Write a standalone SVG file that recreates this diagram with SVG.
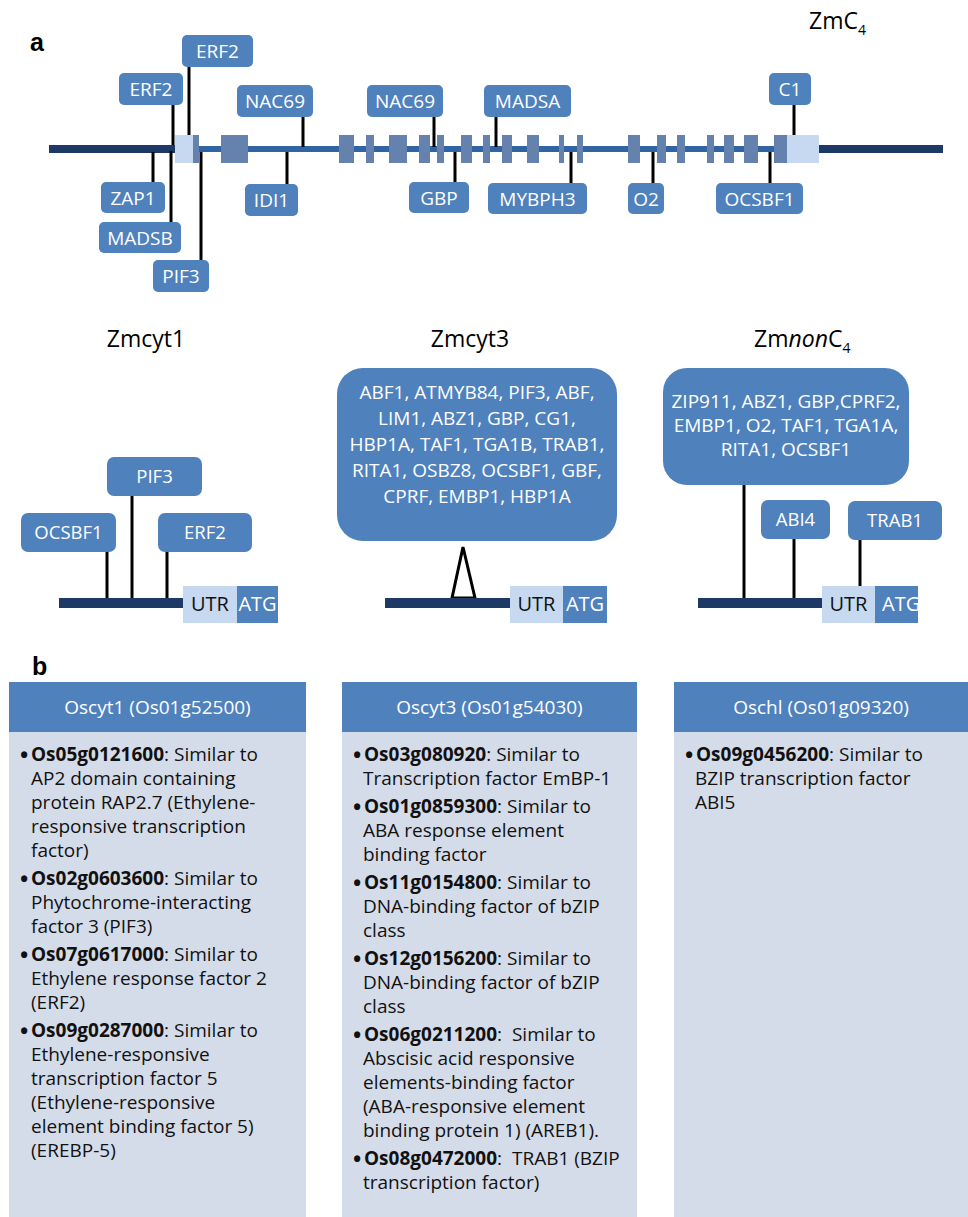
<svg xmlns="http://www.w3.org/2000/svg" width="968" height="1217" viewBox="0 0 968 1217">
<style>
.box{fill:#4f81bd}
.lbl{font-family:'Open Sans',sans-serif;font-size:19px;fill:#ffffff;text-anchor:middle}
.lbl2{font-family:'Open Sans',sans-serif;font-size:18.5px;fill:#ffffff;text-anchor:middle}
.big{font-family:'Open Sans',sans-serif;font-size:19px;fill:#ffffff;text-anchor:middle}
.con{stroke:#000000;stroke-width:3;fill:none}
.dark{fill:#1d3a66}
.thin{fill:#3164a3}
.exon{fill:#6581ad}
.utr{fill:#c6d9f1}
.title{font-family:'Open Sans',sans-serif;font-size:23px;fill:#000000;text-anchor:middle}
.panel{font-family:'Liberation Sans',Arial,sans-serif;font-weight:bold;font-size:25px;fill:#000000}
.hdr{fill:#4f81bd}
.body{fill:#d5dce9}
.htxt{font-family:'Open Sans',sans-serif;font-size:19px;fill:#ffffff;text-anchor:middle}
.t{font-family:'Open Sans',sans-serif;font-size:19px;fill:#111111}
.b{font-weight:bold}
.bul{font-weight:bold;font-size:22px}
.utrt{font-family:'Open Sans',sans-serif;font-size:20px;fill:#111111;text-anchor:middle}
.atgt{font-family:'Open Sans',sans-serif;font-size:20px;fill:#ffffff}
</style>
<defs>
<clipPath id="clipAtg"><rect x="875" y="586" width="43" height="37"/></clipPath>
</defs>
<rect x="0" y="0" width="968" height="1217" fill="#ffffff"/>

<!-- Panel a -->
<text class="panel" x="30" y="51">a</text>
<text id="zmc4-title" class="title" x="809" y="29" style="text-anchor:start">ZmC<tspan font-size="14" dy="6">4</tspan></text>

<g id="zmc4-gene">
<rect class="dark" x="49" y="145" width="126" height="8"/>
<rect class="dark" x="819" y="145" width="124" height="8"/>
<rect class="thin" x="193" y="146" width="594" height="6"/>
<rect class="utr" x="175" y="135" width="18" height="28"/>
<rect class="utr" x="787" y="135" width="32" height="28"/>
<rect class="exon" x="193" y="135" width="6" height="28"/>
<rect class="exon" x="221" y="135" width="27" height="28"/>
<rect class="exon" x="339" y="135" width="15" height="28"/>
<rect class="exon" x="366" y="135" width="8" height="28"/>
<rect class="exon" x="389" y="135" width="18" height="28"/>
<rect class="exon" x="419" y="135" width="11" height="28"/>
<rect class="exon" x="437" y="135" width="7" height="28"/>
<rect class="exon" x="461" y="135" width="11" height="28"/>
<rect class="exon" x="483" y="135" width="7" height="28"/>
<rect class="exon" x="502" y="135" width="10" height="28"/>
<rect class="exon" x="527" y="135" width="12" height="28"/>
<rect class="exon" x="559" y="135" width="5" height="28"/>
<rect class="exon" x="577" y="135" width="6" height="28"/>
<rect class="exon" x="628" y="135" width="12" height="28"/>
<rect class="exon" x="657" y="135" width="9" height="28"/>
<rect class="exon" x="677" y="135" width="8" height="28"/>
<rect class="exon" x="707" y="135" width="7" height="28"/>
<rect class="exon" x="724" y="135" width="10" height="28"/>
<rect class="exon" x="744" y="135" width="14" height="28"/>
<rect class="exon" x="774" y="135" width="13" height="28"/>
</g>

<g id="connectors">
<line class="con" x1="189" y1="67" x2="189" y2="135"/>
<line class="con" x1="173" y1="105" x2="173" y2="145"/>
<line class="con" x1="303" y1="117" x2="303" y2="147"/>
<line class="con" x1="434" y1="117" x2="434" y2="147"/>
<line class="con" x1="496" y1="117" x2="496" y2="147"/>
<line class="con" x1="794" y1="105" x2="794" y2="135"/>
<line class="con" x1="153" y1="152" x2="153" y2="182"/>
<line class="con" x1="171" y1="151" x2="171" y2="222"/>
<line class="con" x1="201" y1="152" x2="201" y2="260"/>
<line class="con" x1="287" y1="152" x2="287" y2="184"/>
<line class="con" x1="455" y1="152" x2="455" y2="182"/>
<line class="con" x1="571" y1="152" x2="571" y2="183"/>
<line class="con" x1="653" y1="152" x2="653" y2="183"/>
<line class="con" x1="770" y1="152" x2="770" y2="183"/>
<!-- Zmcyt1 -->
<line class="con" x1="107" y1="552" x2="107" y2="598"/>
<line class="con" x1="132" y1="496" x2="132" y2="598"/>
<line class="con" x1="167" y1="552" x2="167" y2="598"/>
<!-- Zmcyt3 -->
<polygon points="463,547 452,598 475,598" fill="#ffffff" stroke="#000000" stroke-width="3" stroke-linejoin="miter"/>
<!-- ZmnonC4 -->
<line class="con" x1="744" y1="485" x2="744" y2="598"/>
<line class="con" x1="794" y1="539" x2="794" y2="598"/>
<line class="con" x1="860" y1="540" x2="860" y2="586"/>
</g>

<g id="n-erf2-top"><rect class="box" x="182" y="35" width="71" height="32" rx="5"/><text class="lbl" x="217.5" y="58">ERF2</text></g>
<g id="n-erf2-left"><rect class="box" x="119" y="73" width="64" height="32" rx="5"/><text class="lbl" x="151" y="96">ERF2</text></g>
<g id="n-nac69-a"><rect class="box" x="237" y="85" width="76" height="32" rx="5"/><text class="lbl" x="275" y="108">NAC69</text></g>
<g id="n-nac69-b"><rect class="box" x="367" y="85" width="76" height="32" rx="5"/><text class="lbl" x="405" y="108">NAC69</text></g>
<g id="n-madsa"><rect class="box" x="484" y="85" width="87" height="32" rx="5"/><text class="lbl" x="527.5" y="108">MADSA</text></g>
<g id="n-c1"><rect class="box" x="769" y="73" width="42" height="32" rx="5"/><text class="lbl" x="790" y="96">C1</text></g>
<g id="n-zap1"><rect class="box" x="101" y="182" width="64" height="31" rx="5"/><text class="lbl" x="133" y="204.5">ZAP1</text></g>
<g id="n-madsb"><rect class="box" x="99" y="222" width="82" height="31" rx="5"/><text class="lbl" x="140" y="244.5">MADSB</text></g>
<g id="n-pif3-top"><rect class="box" x="153" y="260" width="56" height="32" rx="5"/><text class="lbl" x="181" y="283">PIF3</text></g>
<g id="n-idi1"><rect class="box" x="245" y="184" width="53" height="32" rx="5"/><text class="lbl" x="271.5" y="207">IDI1</text></g>
<g id="n-gbp"><rect class="box" x="409" y="182" width="60" height="31" rx="5"/><text class="lbl" x="439" y="204.5">GBP</text></g>
<g id="n-mybph3"><rect class="box" x="488" y="183" width="99" height="31" rx="5"/><text class="lbl" x="537.5" y="205.5">MYBPH3</text></g>
<g id="n-o2"><rect class="box" x="628" y="183" width="36" height="31" rx="5"/><text class="lbl" x="646" y="205.5">O2</text></g>
<g id="n-ocsbf1-top"><rect class="box" x="716" y="183" width="87" height="31" rx="5"/><text class="lbl" x="759.5" y="205.5">OCSBF1</text></g>

<!-- Zmcyt1 -->
<text id="zmcyt1-title" class="title" x="146" y="347">Zmcyt1</text>
<g id="zmcyt1-gene">
<rect class="dark" x="59" y="598" width="124" height="10"/>
<rect class="utr" x="183" y="586" width="54" height="37"/>
<rect class="box" x="237" y="586" width="41" height="37"/>
<text class="utrt" x="210" y="611">UTR</text>
<text class="atgt" x="257.5" y="611" text-anchor="middle">ATG</text>
</g>
<g id="n-c1-pif3"><rect class="box" x="107" y="457" width="95" height="39" rx="7"/><text class="lbl2" x="154.5" y="483">PIF3</text></g>
<g id="n-c1-ocsbf1"><rect class="box" x="21" y="513" width="95" height="39" rx="7"/><text class="lbl2" x="68.5" y="539">OCSBF1</text></g>
<g id="n-c1-erf2"><rect class="box" x="158" y="513" width="94" height="39" rx="7"/><text class="lbl2" x="205" y="539">ERF2</text></g>

<!-- Zmcyt3 -->
<text id="zmcyt3-title" class="title" x="470" y="347">Zmcyt3</text>
<g id="zmcyt3-gene">
<rect class="dark" x="385" y="598" width="125" height="10"/>
<rect class="utr" x="510" y="586" width="53" height="37"/>
<rect class="box" x="563" y="586" width="44" height="37"/>
<text class="utrt" x="536.5" y="611">UTR</text>
<text class="atgt" x="585" y="611" text-anchor="middle">ATG</text>
</g>
<g id="n-c3-box">
<rect class="box" x="337" y="368" width="280" height="173" rx="26"/>
<text class="big" x="477" y="399">ABF1, ATMYB84, PIF3, ABF,</text>
<text class="big" x="477" y="425">LIM1, ABZ1, GBP, CG1,</text>
<text class="big" x="477" y="451">HBP1A, TAF1, TGA1B, TRAB1,</text>
<text class="big" x="477" y="477">RITA1, OSBZ8, OCSBF1, GBF,</text>
<text class="big" x="477" y="503">CPRF, EMBP1, HBP1A</text>
</g>

<!-- ZmnonC4 -->
<text id="zmnonc4-title" class="title" x="754" y="347" style="text-anchor:start">Zm<tspan font-style="italic">non</tspan>C<tspan font-size="14" dy="6">4</tspan></text>
<g id="zmnonc4-gene">
<rect class="dark" x="698" y="598" width="124" height="10"/>
<rect class="utr" x="822" y="586" width="53" height="37"/>
<rect class="box" x="875" y="586" width="43" height="37"/>
<text class="utrt" x="848.5" y="611">UTR</text>
<text class="atgt" x="882" y="611" clip-path="url(#clipAtg)">ATG</text>
</g>
<g id="n-cn-box">
<rect class="box" x="663" y="368" width="246" height="117" rx="24"/>
<text class="big" x="786" y="408">ZIP911, ABZ1, GBP,CPRF2,</text>
<text class="big" x="786" y="432">EMBP1, O2, TAF1, TGA1A,</text>
<text class="big" x="786" y="456">RITA1, OCSBF1</text>
</g>
<g id="n-cn-abi4"><rect class="box" x="761" y="500" width="69" height="39" rx="7"/><text class="lbl2" x="795.5" y="526">ABI4</text></g>
<g id="n-cn-trab1"><rect class="box" x="848" y="501" width="94" height="39" rx="7"/><text class="lbl2" x="895" y="527">TRAB1</text></g>

<!-- Panel b -->
<text class="panel" x="32" y="675">b</text>

<g id="col-oscyt1">
<rect class="body" x="9" y="682" width="297" height="535"/>
<rect class="hdr" x="9" y="682" width="297" height="50"/>
<text class="htxt" x="157.5" y="714">Oscyt1 (Os01g52500)</text>
<text class="t" x="20" y="761"><tspan class="bul" dy="2">•</tspan><tspan class="b" x="31" dy="-2">Os05g0121600</tspan>: Similar to</text>
<text class="t" x="31" y="785">AP2 domain containing</text>
<text class="t" x="31" y="809">protein RAP2.7 (Ethylene-</text>
<text class="t" x="31" y="833">responsive transcription</text>
<text class="t" x="31" y="857">factor)</text>
<text class="t" x="20" y="885"><tspan class="bul" dy="2">•</tspan><tspan class="b" x="31" dy="-2">Os02g0603600</tspan>: Similar to</text>
<text class="t" x="31" y="909">Phytochrome-interacting</text>
<text class="t" x="31" y="933">factor 3 (PIF3)</text>
<text class="t" x="20" y="961"><tspan class="bul" dy="2">•</tspan><tspan class="b" x="31" dy="-2">Os07g0617000</tspan>: Similar to</text>
<text class="t" x="31" y="985">Ethylene response factor 2</text>
<text class="t" x="31" y="1009">(ERF2)</text>
<text class="t" x="20" y="1037"><tspan class="bul" dy="2">•</tspan><tspan class="b" x="31" dy="-2">Os09g0287000</tspan>: Similar to</text>
<text class="t" x="31" y="1061">Ethylene-responsive</text>
<text class="t" x="31" y="1085">transcription factor 5</text>
<text class="t" x="31" y="1109">(Ethylene-responsive</text>
<text class="t" x="31" y="1133">element binding factor 5)</text>
<text class="t" x="31" y="1157">(EREBP-5)</text>
</g>

<g id="col-oscyt3">
<rect class="body" x="342" y="682" width="295" height="535"/>
<rect class="hdr" x="342" y="682" width="295" height="50"/>
<text class="htxt" x="489.5" y="714">Oscyt3 (Os01g54030)</text>
<text class="t" x="353" y="761"><tspan class="bul" dy="2">•</tspan><tspan class="b" x="364" dy="-2">Os03g080920</tspan>: Similar to</text>
<text class="t" x="363" y="785">Transcription factor EmBP-1</text>
<text class="t" x="353" y="813"><tspan class="bul" dy="2">•</tspan><tspan class="b" x="364" dy="-2">Os01g0859300</tspan>: Similar to</text>
<text class="t" x="363" y="837">ABA response element</text>
<text class="t" x="363" y="861">binding factor</text>
<text class="t" x="353" y="889"><tspan class="bul" dy="2">•</tspan><tspan class="b" x="364" dy="-2">Os11g0154800</tspan>: Similar to</text>
<text class="t" x="363" y="913">DNA-binding factor of bZIP</text>
<text class="t" x="363" y="937">class</text>
<text class="t" x="353" y="965"><tspan class="bul" dy="2">•</tspan><tspan class="b" x="364" dy="-2">Os12g0156200</tspan>: Similar to</text>
<text class="t" x="363" y="989">DNA-binding factor of bZIP</text>
<text class="t" x="363" y="1013">class</text>
<text class="t" x="353" y="1041" xml:space="preserve"><tspan class="bul" dy="2">•</tspan><tspan class="b" x="364" dy="-2">Os06g0211200</tspan>:  Similar to</text>
<text class="t" x="363" y="1065">Abscisic acid responsive</text>
<text class="t" x="363" y="1089">elements-binding factor</text>
<text class="t" x="363" y="1113">(ABA-responsive element</text>
<text class="t" x="363" y="1137">binding protein 1) (AREB1).</text>
<text class="t" x="353" y="1165" xml:space="preserve"><tspan class="bul" dy="2">•</tspan><tspan class="b" x="364" dy="-2">Os08g0472000</tspan>:  TRAB1 (BZIP</text>
<text class="t" x="363" y="1189">transcription factor)</text>
</g>

<g id="col-oschl">
<rect class="body" x="674" y="682" width="294" height="535"/>
<rect class="hdr" x="674" y="682" width="294" height="50"/>
<text class="htxt" x="821" y="714">Oschl (Os01g09320)</text>
<text class="t" x="685" y="761"><tspan class="bul" dy="2">•</tspan><tspan class="b" x="696" dy="-2">Os09g0456200</tspan>: Similar to</text>
<text class="t" x="695" y="785">BZIP transcription factor</text>
<text class="t" x="695" y="809">ABI5</text>
</g>
</svg>
